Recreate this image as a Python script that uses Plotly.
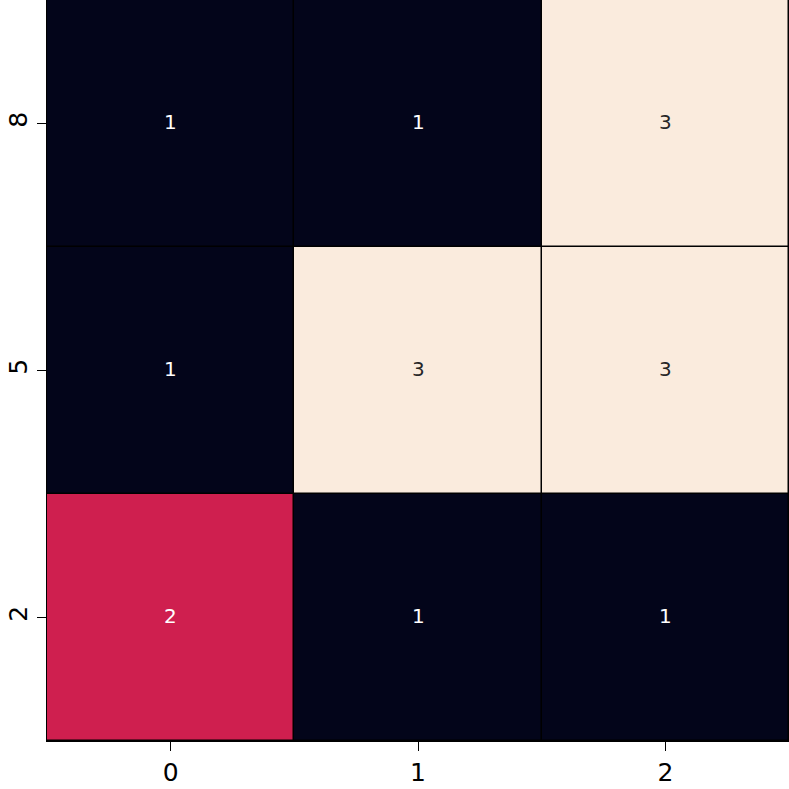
import plotly.graph_objects as go

x_labels = ["0", "1", "2"]
y_labels = ["2", "5", "8"]  # bottom to top
z_values = [
    [2, 1, 1],  # y = 2
    [1, 3, 3],  # y = 5
    [1, 1, 3],  # y = 8
]

colorscale = [[0.0, "#03051A"], [0.5, "#CF1F4F"], [1.0, "#FAEBDD"]]

fig = go.Figure(go.Heatmap(
    x=x_labels, y=y_labels, z=z_values,
    colorscale=colorscale, zmin=1, zmax=3,
    showscale=False, xgap=1.5, ygap=1.5,
))

annotations = []
for yi, row in enumerate(z_values):
    for xi, v in enumerate(row):
        annotations.append(dict(
            x=xi, y=yi, xref="x", yref="y", text=str(v), showarrow=False,
            yshift=2,
            font=dict(family="DejaVu Sans", size=20,
                      color="#262626" if v >= 3 else "#FFFFFF"),
        ))

fig.update_layout(
    width=789, height=789,
    margin=dict(l=47, r=0, t=0, b=48),
    plot_bgcolor="black", paper_bgcolor="white",
    annotations=annotations,
    font=dict(family="DejaVu Sans", color="black"),
)
fig.update_xaxes(type="category", range=[-0.5, 2.5], showgrid=False, zeroline=False,
                 ticks="outside", ticklen=9, tickwidth=1.3, tickcolor="black",
                 tickfont=dict(size=25), showline=True, linecolor="black", linewidth=1)
fig.update_yaxes(type="category", range=[-0.5, 2.5], showgrid=False, zeroline=False,
                 ticks="outside", ticklen=9, tickwidth=1.3, tickcolor="black",
                 tickfont=dict(size=25), tickangle=-90,
                 showline=True, linecolor="black", linewidth=1)

fig.write_html("out.html")
